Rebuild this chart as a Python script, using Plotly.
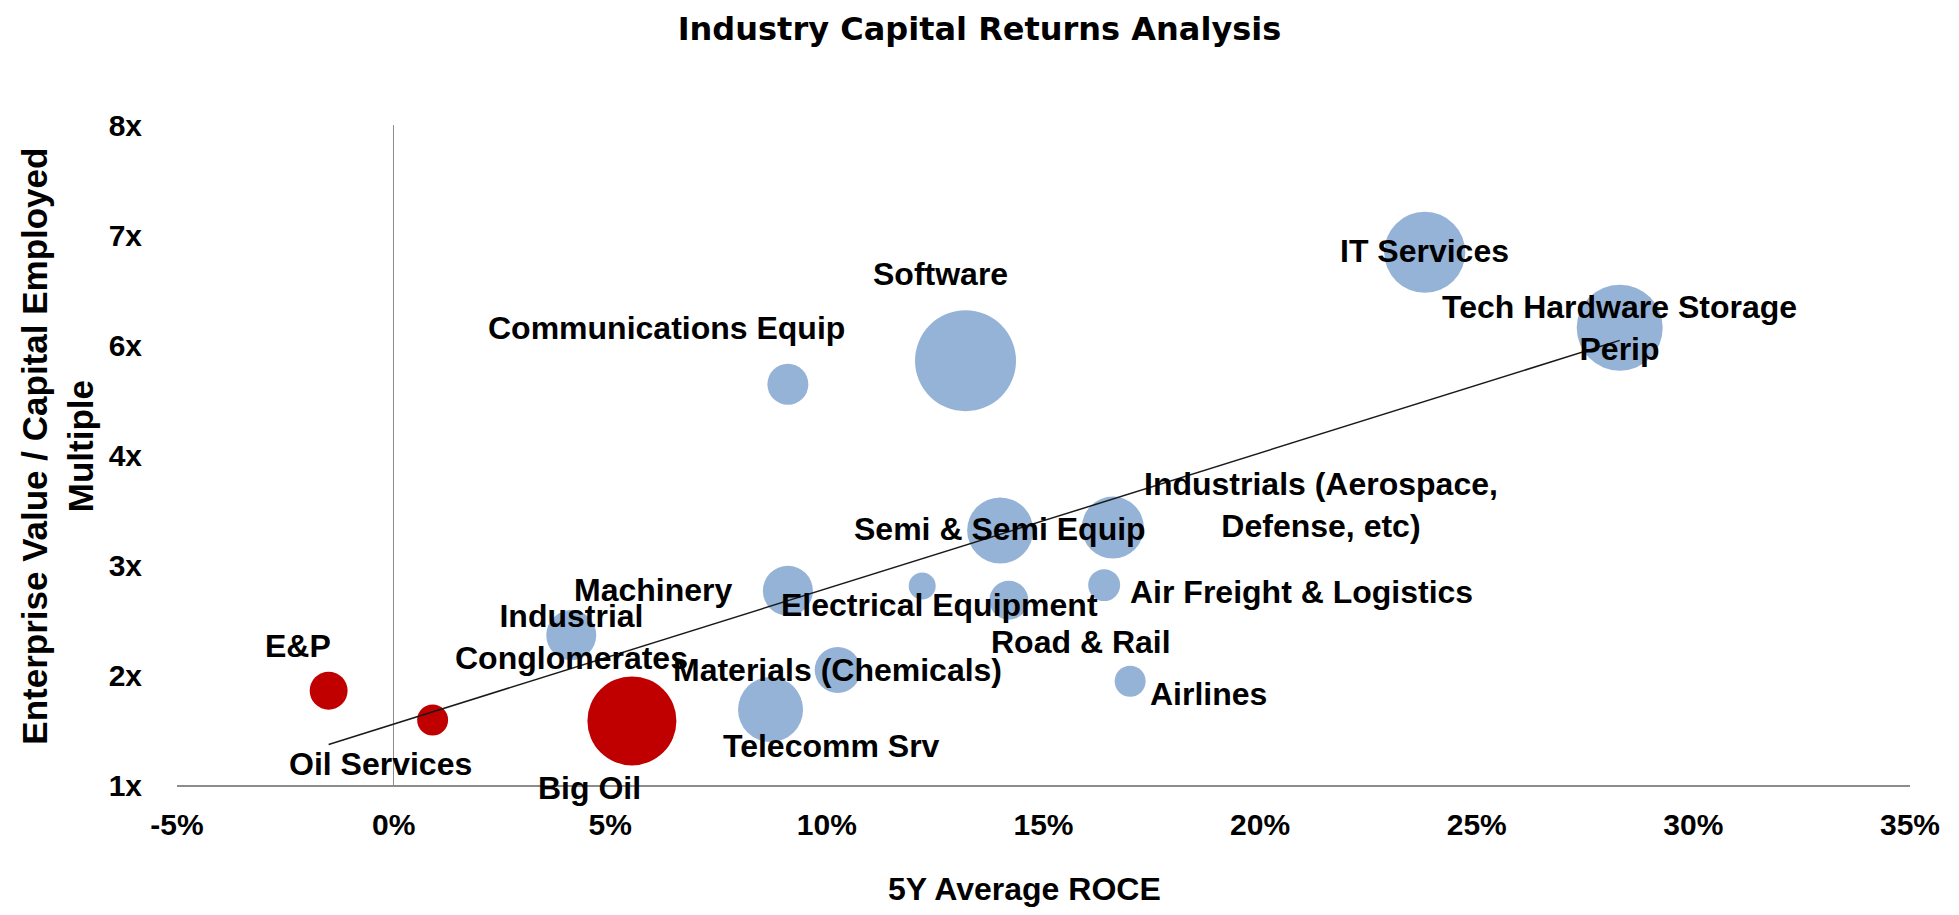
import numpy as np
import plotly.graph_objects as go

# ---------------- data ----------------
industries = [
    "E&P", "Oil Services", "Big Oil", "Industrial Conglomerates", "Machinery",
    "Telecomm Srv", "Materials (Chemicals)", "Communications Equip", "Software",
    "Semi & Semi Equip", "Industrials (Aerospace, Defense, etc)", "Electrical Equipment",
    "Road & Rail", "Air Freight & Logistics", "Airlines", "IT Services",
    "Tech Hardware Storage Perip",
]
label_text = [
    "E&P", "Oil Services", "Big Oil", "Industrial<br>Conglomerates", "Machinery",
    "Telecomm Srv", "Materials (Chemicals)", "Communications Equip", "Software",
    "Semi & Semi Equip", "Industrials (Aerospace,<br>Defense, etc)", "Electrical Equipment",
    "Road & Rail", "Air Freight & Logistics", "Airlines", "IT Services",
    "Tech Hardware Storage<br>Perip",
]
roce_5y = [-1.5, 0.9, 5.5, 4.1, 9.1, 8.7, 10.25, 9.1, 13.2, 14.0, 16.6, 12.2,
           14.2, 16.4, 17.0, 23.8, 28.3]
ev_to_ce = [2.00, 1.69, 1.68, 2.59, 3.06, 1.80, 2.22, 5.25, 5.50, 3.70, 3.73, 3.11,
            2.96, 3.12, 2.10, 6.65, 5.85]
bubble_size = [14.4, 9.6, 79.2, 25.0, 25.0, 42.3, 21.2, 16.8, 102.0, 43.6, 38.4, 7.3,
               15.2, 10.2, 9.6, 65.6, 74.0]
is_energy = [True, True, True] + [False] * 14

x_tick_vals = [-5, 0, 5, 10, 15, 20, 25, 30, 35]
x_tick_labels = ["-5%", "0%", "5%", "10%", "15%", "20%", "25%", "30%", "35%"]
y_tick_labels = ["1x", "2x", "3x", "4x", "6x", "7x", "8x"]

# label offsets (pixels) relative to each bubble centre
label_shift = {
    "E&P": (-31, 45), "Oil Services": (-52, -44), "Big Oil": (-42, -67),
    "Industrial Conglomerates": (0, -2), "Machinery": (-135, 1),
    "Telecomm Srv": (61, -36), "Materials (Chemicals)": (0, 0),
    "Communications Equip": (-121, 56), "Software": (-25, 87),
    "Semi & Semi Equip": (0, 1), "Industrials (Aerospace, Defense, etc)": (208, 23),
    "Electrical Equipment": (17, -19), "Road & Rail": (72, -42),
    "Air Freight & Logistics": (197, -7), "Airlines": (78, -13),
    "IT Services": (0, 1), "Tech Hardware Storage Perip": (0, 0),
}

RED = "#C00000"
BLUE = "#95B3D7"
FONT = "Liberation Sans, Arial, sans-serif"

# page body has an 8px default margin; size the figure to fill the window
BODY = 8
FIG_W, FIG_H = 1959 - 2 * BODY, 915 - 2 * BODY

fig = go.Figure()

for energy, color in [(False, BLUE), (True, RED)]:
    idx = [i for i, e in enumerate(is_energy) if e == energy]
    fig.add_trace(go.Scatter(
        x=[roce_5y[i] for i in idx],
        y=[ev_to_ce[i] for i in idx],
        text=[industries[i] for i in idx],
        mode="markers",
        marker=dict(
            size=[bubble_size[i] for i in idx],
            sizemode="area", sizeref=0.02,
            color=color, opacity=1, line=dict(width=0),
        ),
        hovertemplate="%{text}<br>ROCE %{x:.1f}%<br>EV/CE %{y:.2f}x<extra></extra>",
        showlegend=False,
    ))

# linear trendline across all industries
slope, intercept = np.polyfit(roce_5y, ev_to_ce, 1)
tx = np.array([min(roce_5y), max(roce_5y)])
fig.add_trace(go.Scatter(
    x=tx, y=slope * tx + intercept, mode="lines",
    line=dict(color="#1a1a1a", width=1.5),
    hoverinfo="skip", showlegend=False,
))

annotations = []
for name, lab, xv, yv in zip(industries, label_text, roce_5y, ev_to_ce):
    dx, dy = label_shift[name]
    annotations.append(dict(
        x=xv, y=yv, xref="x", yref="y", text=lab, showarrow=False,
        xshift=dx, yshift=dy, align="center",
        font=dict(family=FONT, size=32, color="black", weight="bold"),
    ))

# axis titles
annotations.append(dict(
    text="5Y Average ROCE", xref="paper", yref="paper", x=0.489, y=-0.158,
    xanchor="center", yanchor="middle", showarrow=False,
    font=dict(family=FONT, size=32, color="black", weight="bold"),
))
annotations.append(dict(
    text="Enterprise Value / Capital Employed<br>Multiple", xref="paper", yref="paper",
    x=-0.0687, y=0.514, xanchor="center", yanchor="middle", textangle=-90,
    showarrow=False, align="center",
    font=dict(family=FONT, size=35, color="black", weight="bold"),
))

fig.update_layout(
    width=FIG_W, height=FIG_H, autosize=False,
    margin=dict(l=177 - BODY, r=49 - BODY, t=125 - BODY, b=FIG_H - (125 - BODY) - 660),
    paper_bgcolor="white", plot_bgcolor="white",
    title=dict(
        text="Industry Capital Returns Analysis",
        x=0.5, xref="container", xanchor="center",
        y=1 - 21 / FIG_H, yref="container", yanchor="middle",
        font=dict(family="DejaVu Sans, Verdana, sans-serif", size=32, color="black", weight="bold"),
    ),
    xaxis=dict(
        range=[-5, 35], tickvals=x_tick_vals, ticktext=x_tick_labels,
        showgrid=False, zeroline=True, zerolinecolor="#8c8c8c", zerolinewidth=1,
        showline=True, linecolor="#8c8c8c", linewidth=2, ticks="",
        ticklabelstandoff=12,
        tickfont=dict(family=FONT, size=30, color="black", weight="bold"),
    ),
    yaxis=dict(
        range=[1, 8], tickvals=list(np.linspace(1, 8, len(y_tick_labels))),
        ticktext=y_tick_labels,
        showgrid=False, zeroline=False, showline=False, ticks="",
        ticklabelstandoff=34,
        tickfont=dict(family=FONT, size=30, color="black", weight="bold"),
    ),
    annotations=annotations,
)

fig.write_html("out.html")
